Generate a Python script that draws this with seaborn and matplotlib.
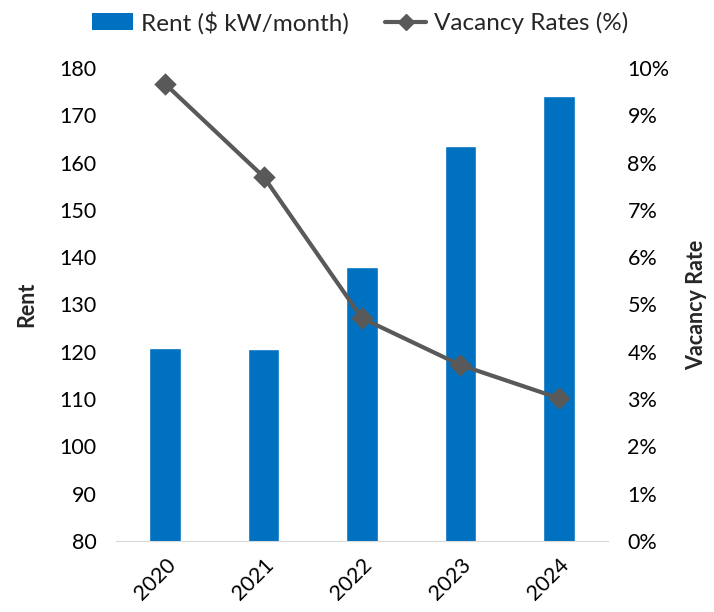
# import needed libraries
import matplotlib
matplotlib.use("Agg")
import matplotlib.pyplot as plt
from matplotlib.patches import Patch
from matplotlib.lines import Line2D
from matplotlib.ticker import FuncFormatter
import seaborn as sns

# data
years = ["2020", "2021", "2022", "2023", "2024"]
rent = [120.9, 120.5, 137.9, 163.5, 174.1]
vacancy = [9.66, 7.70, 4.71, 3.72, 3.02]

bar_color = "#0070C0"
line_color = "#595959"

sns.set_style("white")
plt.rcParams["font.family"] = ["Lato", "DejaVu Sans"]

fig = plt.figure(figsize=(7.14, 6.12), dpi=100)
ax = fig.add_axes([0.1625, 0.116, 0.689, 0.773])

# bars for rent on the left axis
sns.barplot(x=years, y=rent, color=bar_color, width=0.32, saturation=1, ax=ax)
ax.set_ylim(80, 180)
ax.set_yticks(range(80, 181, 10))
ax.set_xlim(-0.5, 4.5)

# line for vacancy on the right axis
ax2 = ax.twinx()
sns.pointplot(x=years, y=vacancy, color=line_color, markers="D", markersize=9,
              linewidth=3, errorbar=None, ax=ax2)
ax2.set_ylim(0, 10)
ax2.set_yticks(range(0, 11, 1))
ax2.yaxis.set_major_formatter(FuncFormatter(lambda v, p: f"{v:.0f}%"))
ax2.set_xlim(-0.5, 4.5)

# spines and ticks
for a in (ax, ax2):
    for s in ("top", "left", "right"):
        a.spines[s].set_visible(False)
    a.spines["bottom"].set_color("#D9D9D9")
    a.tick_params(axis="both", length=0, labelsize=15.5, colors="black")
ax2.spines["bottom"].set_visible(False)

ax.set_xlabel("")
ax2.set_xlabel("")
ax.set_xticks(range(len(years)))
ax.set_xticklabels(years, rotation=45, ha="right", rotation_mode="anchor")
ax.tick_params(axis="x", pad=10)
ax.tick_params(axis="y", pad=14)
ax2.tick_params(axis="y", pad=14)

ax.set_ylabel("Rent", fontsize=15.5, fontweight="bold", labelpad=16)
ax2.set_ylabel("Vacancy Rate", fontsize=15.5, fontweight="bold", labelpad=12)

# legend at the top
handles = [Patch(facecolor=bar_color, edgecolor="none"),
           Line2D([0], [0], color=line_color, lw=3, marker="D", markersize=8)]
fig.legend(handles, ["Rent ($ kW/month)", "Vacancy Rates (%)"], ncol=2,
           loc="center", bbox_to_anchor=(0.504, 0.963), frameon=False,
           fontsize=17.5, handlelength=1.7, handleheight=0.65, columnspacing=1.5,
           handletextpad=0.3)

fig.savefig("out.png", dpi=100)
